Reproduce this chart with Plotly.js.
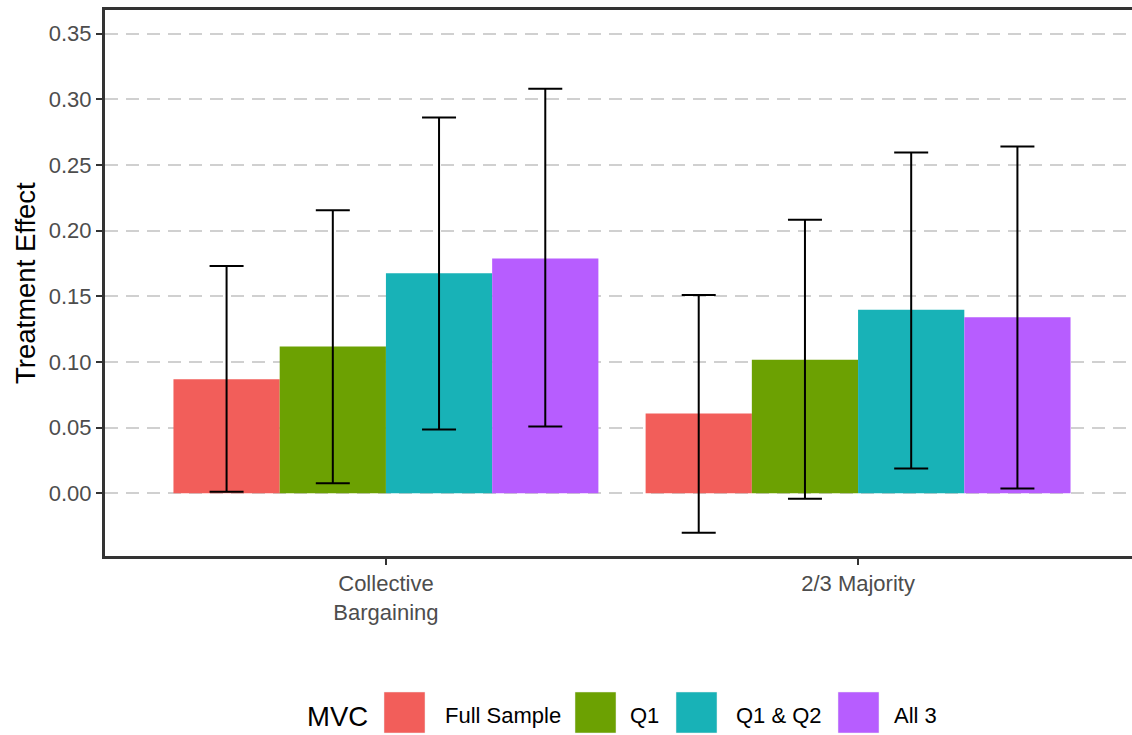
<!DOCTYPE html>
<html>
<head>
<meta charset="utf-8">
<script src="https://cdn.plot.ly/plotly-3.0.1.min.js"></script>
<style>
html, body { margin:0; padding:0; overflow:hidden; background:#fff; }
#chart { width:1142px; height:735px; }
</style>
</head>
<body>
<div id="chart"></div>
<script>
// ---- data ----
const categories = ["Collective<br>Bargaining", "2/3 Majority"];
const seriesNames = ["Full Sample", "Q1", "Q1 & Q2", "All 3"];
const seriesColors = ["#F25E5A", "#6CA102", "#18B2B7", "#B75DFF"];
const fullSample = [0.0868, 0.0608];
const fullSampleLow = [0.0012, -0.0300];
const fullSampleHigh = [0.1731, 0.1510];
const q1 = [0.1117, 0.1017];
const q1Low = [0.0076, -0.0042];
const q1High = [0.2155, 0.2082];
const q1q2 = [0.1676, 0.1398];
const q1q2Low = [0.0485, 0.0188];
const q1q2High = [0.2862, 0.2595];
const all3 = [0.1788, 0.1340];
const all3Low = [0.0508, 0.0036];
const all3High = [0.3080, 0.2640];
const yTicks = [0, 0.05, 0.10, 0.15, 0.20, 0.25, 0.30, 0.35];
const legendTitle = "MVC";
const yTitle = "Treatment Effect";

const values = [fullSample, q1, q1q2, all3];
const lows = [fullSampleLow, q1Low, q1q2Low, all3Low];
const highs = [fullSampleHigh, q1High, q1q2High, all3High];

const FONT = "Liberation Sans, Arial, Helvetica, sans-serif";

const traces = seriesNames.map((name, i) => ({
  type: "bar",
  name: name,
  x: categories,
  y: values[i],
  marker: { color: seriesColors[i], line: { width: 0 } },
  error_y: {
    type: "data",
    symmetric: false,
    array: values[i].map((v, j) => highs[i][j] - v),
    arrayminus: values[i].map((v, j) => v - lows[i][j]),
    color: "#000000",
    thickness: 2,
    width: 17
  },
  showlegend: false,
  hoverinfo: "skip"
}));

// figure geometry
const W = 1142, H = 735, ML = 105, MR = 3, MT = 10, MB = 179;
const PW = W - ML - MR, PH = H - MT - MB;
const px = x => (x - ML) / PW;
const py = y => (H - MB - y) / PH;

// legend built from shapes + annotations
const keyX = [384, 575, 676, 838];
const textX = [443, 628, 734, 892];
const shapes = [];
const annotations = [];
seriesNames.forEach((name, i) => {
  shapes.push({
    type: "rect", xref: "paper", yref: "paper",
    x0: px(keyX[i]), x1: px(keyX[i] + 41), y0: py(733), y1: py(692),
    fillcolor: seriesColors[i], line: { width: 0.5, color: "#eeeeee" }
  });
  annotations.push({
    xref: "paper", yref: "paper", x: px(textX[i]), y: py(715),
    xanchor: "left", yanchor: "middle", showarrow: false,
    text: name, font: { family: FONT, size: 22, color: "#000" }
  });
});
annotations.push({
  xref: "paper", yref: "paper", x: px(305), y: py(716),
  xanchor: "left", yanchor: "middle", showarrow: false,
  text: legendTitle, font: { family: FONT, size: 27.5, color: "#000" }
});
annotations.push({
  xref: "paper", yref: "paper", x: px(25), y: 0.5,
  xanchor: "center", yanchor: "middle", showarrow: false, textangle: -90,
  text: yTitle, font: { family: FONT, size: 27.5, color: "#000" }
});

const layout = {
  width: W, height: H,
  margin: { l: ML, r: MR, t: MT, b: MB },
  paper_bgcolor: "#fff", plot_bgcolor: "#fff",
  barmode: "group", bargap: 0.1, bargroupgap: 0,
  showlegend: false,
  font: { family: FONT },
  xaxis: {
    type: "category",
    range: [-0.595, 1.595],
    showgrid: false, zeroline: false,
    showline: true, mirror: true, linecolor: "#333333", linewidth: 3,
    ticks: "outside", ticklen: 6, tickwidth: 2, tickcolor: "#333333",
    tickfont: { family: FONT, size: 22, color: "#4D4D4D" }
  },
  yaxis: {
    range: [-0.0478, 0.368],
    tickvals: yTicks, tickformat: ".2f",
    showgrid: true, gridcolor: "#D0D0D0", gridwidth: 2, griddash: "13px,8px",
    zeroline: false,
    showline: true, mirror: true, linecolor: "#333333", linewidth: 3,
    ticks: "outside", ticklen: 6, tickwidth: 2, tickcolor: "#333333",
    tickfont: { family: FONT, size: 22, color: "#4D4D4D" }
  },
  shapes: shapes,
  annotations: annotations
};

Plotly.newPlot("chart", traces, layout, { staticPlot: true, displayModeBar: false });
</script>
</body>
</html>
